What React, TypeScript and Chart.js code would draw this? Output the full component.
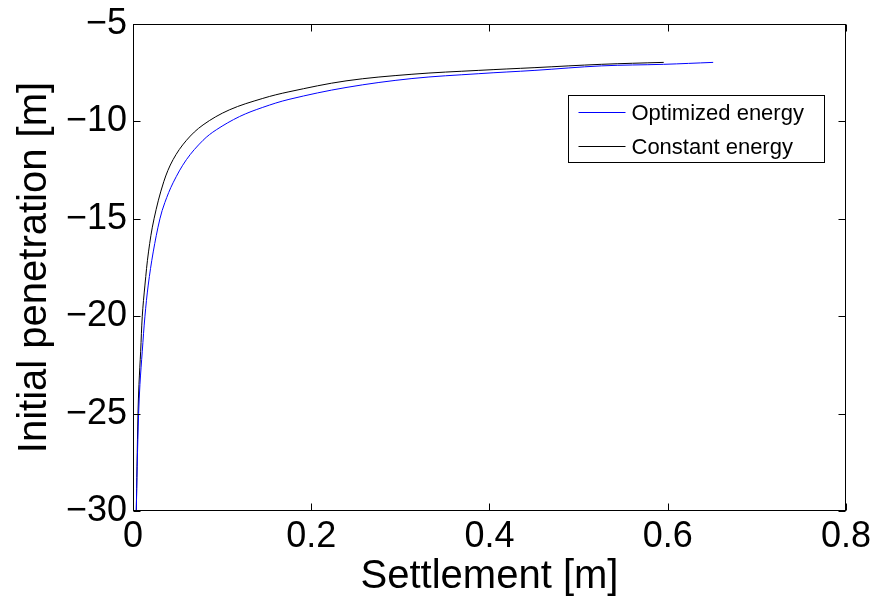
import React, { useEffect, useRef } from "react";
import { Chart, registerables } from "chart.js";

Chart.register(...registerables);

// Optimized energy (blue)
const optimizedX = [0.0037, 0.0047, 0.0063, 0.0078, 0.0104, 0.0134, 0.0171, 0.0227, 0.0302, 0.0358, 0.045, 0.06, 0.0786, 0.0935, 0.1196, 0.1456, 0.175, 0.239, 0.313, 0.388, 0.451, 0.5255, 0.5955, 0.651];
const optimizedY = [-30, -27.7, -25, -23.5, -21.8, -20, -18.4, -16.7, -15, -14.16, -13.15, -11.96, -10.97, -10.43, -9.75, -9.28, -8.87, -8.26, -7.8, -7.55, -7.38, -7.15, -7.07, -6.97];

// Constant energy (black)
const constantX = [0.0037, 0.0045, 0.0056, 0.0067, 0.0086, 0.0104, 0.0134, 0.0174, 0.0236, 0.0345, 0.045, 0.06, 0.0786, 0.108, 0.1456, 0.175, 0.239, 0.313, 0.388, 0.451, 0.5255, 0.5955];
const constantY = [-30, -27.7, -25, -23.5, -21.8, -20, -18.4, -16.7, -15, -13.1, -11.96, -10.97, -10.18, -9.41, -8.82, -8.48, -7.92, -7.58, -7.38, -7.24, -7.07, -6.97];

const seriesLabels = ["Optimized energy", "Constant energy"];
const seriesColors = ["#0000ff", "#000000"];
const xTicks = [0, 0.2, 0.4, 0.6, 0.8];
const yTicks = [-30, -25, -20, -15, -10, -5];
const xTitle = "Settlement [m]";
const yTitle = "Initial penetration [m]";

const FONT = "'Liberation Sans', Arial, Helvetica, sans-serif";

const fmt = (v: number) => (v < 0 ? "\u2212" + Math.abs(v) : String(v));

const boxPlugin = {
  id: "matlabBox",
  afterDraw(chart: any) {
    const { ctx, chartArea: a, scales } = chart;
    const L = Math.round(a.left) + 0.5;
    const R = Math.round(a.right) - 0.5;
    const T = Math.round(a.top) + 0.5;
    const B = Math.round(a.bottom) - 0.5;
    ctx.save();
    ctx.strokeStyle = "#000";
    ctx.lineWidth = 1;
    ctx.strokeRect(L, T, R - L, B - T);
    const tl = 7;
    ctx.beginPath();
    xTicks.forEach((v) => {
      const px = Math.round(scales.x.getPixelForValue(v)) + 0.5;
      ctx.moveTo(px, B);
      ctx.lineTo(px, B - tl);
      ctx.moveTo(px, T);
      ctx.lineTo(px, T + tl);
    });
    yTicks.forEach((v) => {
      const py = Math.round(scales.y.getPixelForValue(v)) + 0.5;
      ctx.moveTo(L, py);
      ctx.lineTo(L + tl, py);
      ctx.moveTo(R, py);
      ctx.lineTo(R - tl, py);
    });
    ctx.stroke();

    // legend box
    const lw = 256;
    const lh = 67;
    const lx = Math.round(a.right) - 22 - lw + 0.5;
    const ly = Math.round(a.top) + 71 + 0.5;
    ctx.fillStyle = "#fff";
    ctx.fillRect(lx, ly, lw, lh);
    ctx.strokeStyle = "#000";
    ctx.strokeRect(lx, ly, lw, lh);
    ctx.font = "22px " + FONT;
    ctx.textBaseline = "middle";
    ctx.textAlign = "left";
    chart.data.datasets.forEach((ds: any, i: number) => {
      const cy = Math.round(ly + lh * (i * 2 + 1) / 4) + 0.5;
      ctx.strokeStyle = ds.borderColor;
      ctx.beginPath();
      ctx.moveTo(lx + 10, cy);
      ctx.lineTo(lx + 57, cy);
      ctx.stroke();
      ctx.fillStyle = "#000";
      ctx.fillText(ds.label, lx + 63, cy + 1);
    });
    ctx.restore();
  },
};

export default function App() {
  const ref = useRef<HTMLCanvasElement | null>(null);
  useEffect(() => {
    if (!ref.current) return;
    const chart = new Chart(ref.current, {
      type: "scatter",
      data: {
        datasets: [
          {
            label: seriesLabels[0],
            data: optimizedX.map((x, i) => ({ x, y: optimizedY[i] })),
            borderColor: seriesColors[0],
            backgroundColor: seriesColors[0],
            showLine: true,
            pointRadius: 0,
            borderWidth: 1,
            tension: 0.35,
          },
          {
            label: seriesLabels[1],
            data: constantX.map((x, i) => ({ x, y: constantY[i] })),
            borderColor: seriesColors[1],
            backgroundColor: seriesColors[1],
            showLine: true,
            pointRadius: 0,
            borderWidth: 1,
            tension: 0.35,
          },
        ],
      },
      options: {
        responsive: false,
        animation: false,
        layout: { padding: { left: 0, top: 20, right: 31, bottom: 0 } },
        plugins: { legend: { display: false }, tooltip: { enabled: false } },
        scales: {
          x: {
            type: "linear",
            position: "bottom",
            min: 0,
            max: 0.8,
            grid: { display: false, drawTicks: false, tickLength: 0 },
            border: { display: false },
            afterBuildTicks: (s: any) => {
              s.ticks = xTicks.map((v) => ({ value: v }));
            },
            ticks: {
              color: "#000",
              font: { family: FONT, size: 36, lineHeight: 1 },
              padding: 8,
              maxRotation: 0,
              autoSkip: false,
              callback: (v: any) => fmt(Number(v)),
            },
            title: {
              display: true,
              text: xTitle,
              color: "#000",
              font: { family: FONT, size: 40, lineHeight: 1 },
              padding: { top: 0, bottom: 2 },
            },
            afterFit: (s: any) => {
              s.height = 88;
            },
          },
          y: {
            type: "linear",
            min: -30,
            max: -5,
            grid: { display: false, drawTicks: false, tickLength: 0 },
            border: { display: false },
            afterBuildTicks: (s: any) => {
              s.ticks = yTicks.map((v) => ({ value: v }));
            },
            ticks: {
              color: "#000",
              font: { family: FONT, size: 36, lineHeight: 1 },
              padding: 6,
              autoSkip: false,
              callback: (v: any) => fmt(Number(v)),
            },
            title: {
              display: true,
              text: yTitle,
              color: "#000",
              font: { family: FONT, size: 40, lineHeight: 1 },
              padding: { top: 15, bottom: 0 },
            },
            afterFit: (s: any) => {
              s.width = 133;
            },
          },
        },
      },
      plugins: [boxPlugin],
    } as any);
    return () => chart.destroy();
  }, []);
  return (
    <div style={{ position: "fixed", left: 0, top: 0, width: 879, height: 599, background: "#fff" }}>
      <canvas ref={ref} width={879} height={599} style={{ display: "block" }} />
    </div>
  );
}
